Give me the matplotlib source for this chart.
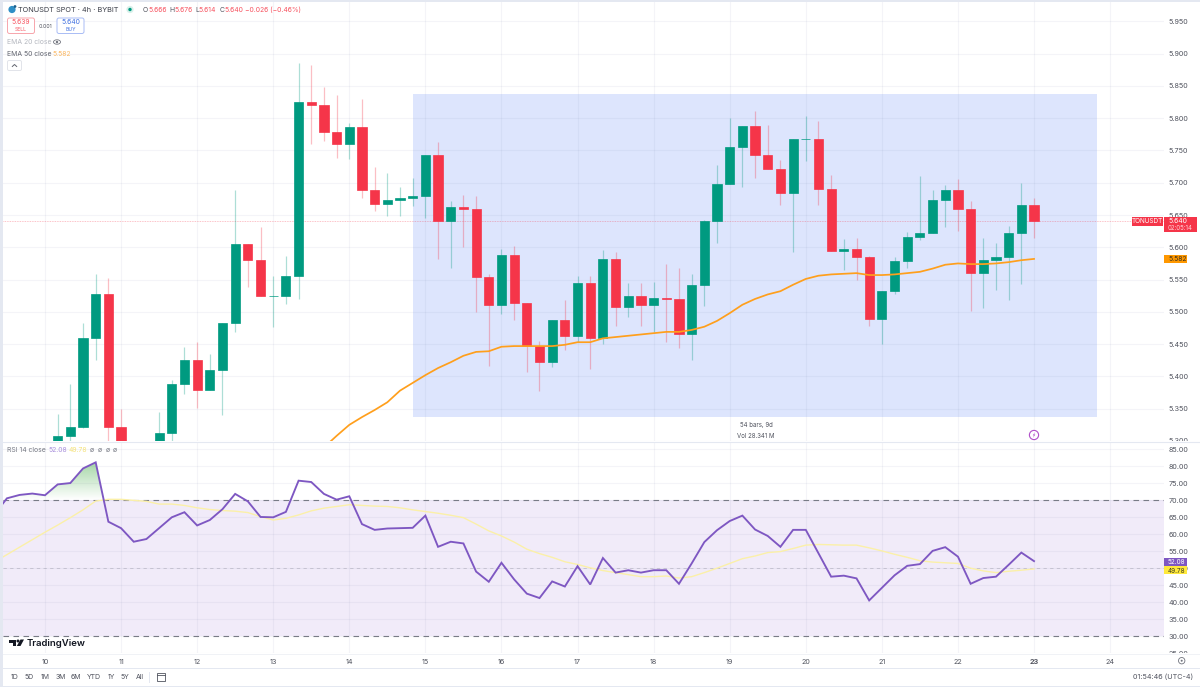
import numpy as np
import matplotlib
matplotlib.use('Agg')
import matplotlib.pyplot as plt
from matplotlib.collections import LineCollection
from matplotlib.patches import Rectangle, FancyBboxPatch, Circle, Polygon, Ellipse
from matplotlib.transforms import Bbox, TransformedBbox

plt.rcParams['font.family'] = ['Inter', 'DejaVu Sans']

# bars are counted from the 00:00 candle of day 10, 6 bars a day
first_bar = 1
opens = [5.295, 5.308, 5.321, 5.460, 5.528, 5.321,
         5.280, 5.260, 5.290, 5.312, 5.388, 5.426,
         5.379, 5.410, 5.482, 5.605, 5.580, 5.524,
         5.525, 5.556, 5.825, 5.820, 5.779, 5.760,
         5.786, 5.688, 5.667, 5.674, 5.676, 5.679,
         5.743, 5.641, 5.663, 5.659, 5.554, 5.511,
         5.588, 5.514, 5.447, 5.423, 5.487, 5.463,
         5.545, 5.460, 5.582, 5.508, 5.524, 5.510,
         5.521, 5.520, 5.466, 5.542, 5.641, 5.698,
         5.755, 5.788, 5.743, 5.721, 5.684, 5.767,
         5.767, 5.691, 5.594, 5.597, 5.585, 5.489,
         5.532, 5.579, 5.616, 5.622, 5.674, 5.689,
         5.660, 5.560, 5.580, 5.585, 5.622, 5.666]
closes = [5.308, 5.321, 5.460, 5.528, 5.321, 5.280,
          5.260, 5.280, 5.312, 5.388, 5.426, 5.379,
          5.410, 5.482, 5.605, 5.580, 5.524, 5.525,
          5.556, 5.825, 5.820, 5.779, 5.760, 5.786,
          5.688, 5.667, 5.674, 5.676, 5.679, 5.743,
          5.641, 5.663, 5.659, 5.554, 5.511, 5.588,
          5.514, 5.447, 5.423, 5.487, 5.463, 5.545,
          5.460, 5.582, 5.508, 5.524, 5.510, 5.521,
          5.520, 5.466, 5.542, 5.641, 5.698, 5.755,
          5.788, 5.743, 5.721, 5.684, 5.767, 5.768,
          5.691, 5.594, 5.597, 5.585, 5.489, 5.532,
          5.579, 5.616, 5.622, 5.674, 5.689, 5.660,
          5.560, 5.580, 5.585, 5.622, 5.666, 5.640]
highs = [5.342, 5.388, 5.482, 5.558, 5.552, 5.350,
         5.285, 5.285, 5.345, 5.395, 5.446, 5.453,
         5.435, 5.482, 5.688, 5.605, 5.632, 5.556,
         5.587, 5.885, 5.882, 5.848, 5.836, 5.792,
         5.830, 5.725, 5.715, 5.693, 5.708, 5.743,
         5.763, 5.672, 5.681, 5.679, 5.559, 5.598,
         5.602, 5.514, 5.455, 5.487, 5.518, 5.556,
         5.556, 5.596, 5.592, 5.545, 5.545, 5.546,
         5.574, 5.568, 5.558, 5.643, 5.728, 5.801,
         5.788, 5.811, 5.790, 5.735, 5.767, 5.804,
         5.796, 5.712, 5.613, 5.615, 5.587, 5.532,
         5.585, 5.623, 5.711, 5.688, 5.696, 5.706,
         5.672, 5.614, 5.607, 5.633, 5.699, 5.676]
lows = [5.280, 5.290, 5.320, 5.426, 5.290, 5.260,
        5.240, 5.250, 5.280, 5.297, 5.373, 5.351,
        5.379, 5.340, 5.469, 5.538, 5.524, 5.477,
        5.512, 5.520, 5.760, 5.765, 5.739, 5.737,
        5.677, 5.656, 5.648, 5.648, 5.664, 5.646,
        5.582, 5.568, 5.600, 5.500, 5.416, 5.497,
        5.487, 5.407, 5.378, 5.414, 5.441, 5.454,
        5.411, 5.451, 5.478, 5.492, 5.478, 5.469,
        5.454, 5.444, 5.426, 5.509, 5.607, 5.698,
        5.694, 5.708, 5.721, 5.665, 5.593, 5.734,
        5.665, 5.594, 5.565, 5.549, 5.478, 5.451,
        5.527, 5.568, 5.612, 5.622, 5.631, 5.626,
        5.502, 5.506, 5.534, 5.518, 5.543, 5.614]

ema_first_bar = 21
ema50 = [5.270, 5.290, 5.308, 5.325, 5.337, 5.348, 5.360, 5.378, 5.390,
         5.402, 5.413, 5.422, 5.432, 5.438, 5.439, 5.446, 5.447, 5.447, 5.447,
         5.447, 5.449, 5.453, 5.453, 5.459, 5.461, 5.463, 5.465, 5.467, 5.469,
         5.469, 5.472, 5.477, 5.486, 5.498, 5.511, 5.520, 5.527, 5.532, 5.542,
         5.551, 5.556, 5.558, 5.559, 5.560, 5.557, 5.557, 5.558, 5.560, 5.562,
         5.567, 5.573, 5.575, 5.574, 5.574, 5.575, 5.577, 5.580, 5.582]

rsi_first_bar = -4
rsi = [65.8, 70.6, 71.6, 72.0, 71.5, 74.7, 75.1, 79.4, 81.2, 63.7, 61.8, 57.8, 58.6,
       61.8, 65.0, 66.5, 62.6, 64.2, 67.4, 71.9, 69.7, 65.1, 65.0, 66.6, 75.8,
       75.4, 71.9, 70.2, 71.2, 63.0, 61.3, 61.7, 61.8, 61.9, 65.5, 56.3, 57.8,
       57.3, 49.0, 46.0, 51.6, 46.7, 42.5, 41.2, 46.1, 44.6, 50.6, 45.2, 53.0,
       48.7, 49.4, 48.7, 49.4, 49.4, 45.4, 51.4, 57.7, 61.2, 63.9, 65.5, 61.4,
       59.5, 56.3, 61.3, 61.3, 54.4, 47.5, 47.8, 47.0, 40.5, 44.2, 47.9, 50.7,
       51.2, 55.1, 56.2, 53.4, 45.4, 47.1, 47.5, 51.0, 54.6, 52.08]
rsi_ma = [51.8, 54.0, 56.2, 58.4, 60.6, 62.7, 64.9, 67.2, 69.8, 70.3, 70.3, 70.0, 69.7,
          68.9, 68.9, 68.5, 67.8, 67.3, 67.0, 66.8, 66.4, 65.2, 64.2, 64.7, 65.7,
          66.9, 67.7, 68.2, 68.7, 68.5, 68.3, 68.2, 67.8, 67.2, 66.7, 66.2, 65.6,
          64.9, 63.0, 61.0, 59.5, 57.7, 55.6, 54.3, 53.2, 51.9, 51.1, 50.1, 49.3,
          48.7, 48.1, 47.5, 47.5, 47.7, 47.1, 47.5, 48.7, 50.0, 51.4, 52.8, 53.6,
          54.6, 54.9, 55.8, 56.8, 57.0, 56.9, 56.8, 56.8, 56.0, 55.1, 54.1, 53.2,
          52.2, 51.8, 51.6, 51.4, 50.0, 49.2, 48.7, 49.1, 49.4, 49.78]

day_labels = ['10', '11', '12', '13', '14', '15', '16', '17', '18', '19', '20', '21', '22', '23', '24']
bars_per_day = 6
price_ticks = [5.30, 5.35, 5.40, 5.45, 5.50, 5.55, 5.60, 5.65, 5.70, 5.75, 5.80, 5.85, 5.90, 5.95]
rsi_ticks = [25, 30, 35, 40, 45, 50, 55, 60, 65, 70, 75, 80, 85]

last_price = 5.640
last_ema = 5.582
measure_bars = (29, 83)
measure_prices = (5.337, 5.837)

GREEN = '#009a80'
RED = '#f53549'
ORANGE = '#ff9f1c'
PURPLE = '#7e57c2'
YELLOW = '#fbf0a8'
GRID = '#737fa6'
GRAY = '#50535e'

W, H = 1200, 687
fig = plt.figure(figsize=(12, 6.87), dpi=100)


def axes_px(left, top, right, bottom):
    return fig.add_axes([left / W, 1 - bottom / H, (right - left) / W, (bottom - top) / H])


day_x = np.arange(len(day_labels)) * bars_per_day
bar_x = np.arange(len(opens)) + first_bar
xlim = (-3.31, 88.25)

# ---- price panel
ax = axes_px(3, 0, 1164, 441)
ax.set_xlim(xlim)
ax.set_ylim(5.300, 5.983)
ax.set_axisbelow(True)
ax.grid(True, color=GRID, alpha=0.08, lw=0.8)
ax.set_xticks(day_x)
ax.set_yticks(price_ticks)
ax.set_yticklabels(['%.3f' % p for p in price_ticks])
ax.tick_params(axis='x', length=0, labelbottom=False)
ax.yaxis.tick_right()
ax.tick_params(axis='y', length=0, labelsize=5.2, labelcolor=GRAY, pad=3.0)
for s in ax.spines.values():
    s.set_visible(False)

ax.add_patch(Rectangle((measure_bars[0], measure_prices[0]), measure_bars[1] - measure_bars[0],
                       measure_prices[1] - measure_prices[0], color='#dde5fd', lw=0, zorder=0.4))
ax.axhline(last_price, color=RED, lw=0.6, ls=(0, (1, 1)), alpha=0.4, zorder=1)

up = np.array(closes) >= np.array(opens)
colors = [GREEN if u else RED for u in up]
wick_segs = [[(x, l), (x, h)] for x, l, h in zip(bar_x, lows, highs)]
ax.add_collection(LineCollection(wick_segs, colors=colors, linewidths=0.9, alpha=0.32, zorder=2))
ax.bar(bar_x, np.array(closes) - np.array(opens), bottom=opens, width=0.72,
       color=colors, edgecolor=colors, lw=0.5, zorder=3)
ax.plot(np.arange(len(ema50)) + ema_first_bar, ema50, color=ORANGE, lw=1.25, zorder=4)

# ---- rsi panel
ax2 = axes_px(3, 442, 1164, 653)
ax2.set_xlim(xlim)
ax2.set_ylim(25.0, 87.2)
ax2.set_axisbelow(True)
ax2.grid(True, color=GRID, alpha=0.08, lw=0.8)
ax2.set_xticks(day_x)
ax2.set_xticklabels(day_labels)
ax2.get_xticklabels()[13].set_fontweight('bold')
ax2.set_yticks(rsi_ticks)
ax2.set_yticklabels(['%.2f' % r for r in rsi_ticks])
ax2.yaxis.tick_right()
ax2.tick_params(axis='y', length=0, labelsize=5.2, labelcolor=GRAY, pad=3.0)
ax2.tick_params(axis='x', length=0, labelsize=5.2, labelcolor=GRAY, pad=4)
for s in ax2.spines.values():
    s.set_visible(False)

rsi_x = np.arange(len(rsi)) + rsi_first_bar
ax2.axhspan(30, 70, color='#f1ebf9', lw=0, zorder=0.4)
ax2.axhline(70, color='#787b86', lw=0.8, ls=(0, (5, 4)), zorder=2)
ax2.axhline(30, color='#787b86', lw=0.8, ls=(0, (5, 4)), zorder=2)
ax2.axhline(50, color='#787b86', lw=0.6, ls=(0, (4, 4)), alpha=0.35, zorder=2)

# green gradient where rsi is over 70
grad = np.zeros((64, 2, 4))
grad[..., :3] = matplotlib.colors.to_rgb('#4caf50')
grad[..., 3] = np.linspace(0.55, 0.0, 64)[:, None]
img = ax2.imshow(grad, extent=(xlim[0], xlim[1], 70, 82), aspect='auto', origin='upper', zorder=1.5)
over = ax2.fill_between(rsi_x, 70, rsi, where=np.array(rsi) > 70, interpolate=True, color='none', lw=0)
verts = over.get_paths()[0]
img.set_clip_path(verts, transform=ax2.transData)
ax2.set_xlim(xlim)
ax2.set_ylim(25.0, 87.2)

ax2.plot(rsi_x, rsi_ma, color=YELLOW, lw=1.0, zorder=3)
ax2.plot(rsi_x, rsi, color=PURPLE, lw=1.35, zorder=4, solid_joinstyle='miter')

# axis labels at the panel edges are cut in the screenshot
for a in (ax, ax2):
    clip = TransformedBbox(Bbox([[0, 0], [1.05, 1]]), a.transAxes)
    for lab in a.get_yticklabels():
        lab.set_clip_box(clip)
        lab.set_clip_on(True)

# ---- overlay in screen pixels for the TradingView interface
ov = fig.add_axes([0, 0, 1, 1], zorder=10)
ov.set_xlim(0, W)
ov.set_ylim(H, 0)
ov.axis('off')
ov.patch.set_alpha(0)


def txt(x, y, s, size=5.2, color=GRAY, ha='left', weight='normal'):
    ov.text(x, y, s, fontsize=size, color=color, ha=ha, va='center', fontweight=weight)


def tag(x0, y0, x1, y1, color):
    ov.add_patch(Rectangle((x0, y0), x1 - x0, y1 - y0, color=color, lw=0))


BORDER = '#e4e8f1'
ov.add_patch(Rectangle((0, 0), W, 2, color=BORDER, lw=0))
ov.add_patch(Rectangle((0, 0), 2.5, H, color=BORDER, lw=0))
ov.add_patch(Rectangle((0, 685.5), W, 1.5, color=BORDER, lw=0))
ov.plot([3, W], [441.5, 441.5], color=BORDER, lw=0.8)
ov.plot([3, W], [653.5, 653.5], color='#f0f2f6', lw=0.7)
ov.plot([3, W], [667.5, 667.5], color=BORDER, lw=0.7)

# header
ov.add_patch(Circle((12, 9.5), 3.6, color='#2f8fc6', lw=0))
ov.add_patch(Circle((15, 6.5), 1.4, color='#1c5f8c', lw=0))
txt(18, 9.5, 'TONUSDT SPOT · 4h · BYBIT', size=5.3, color='#3a3d47')
ov.add_patch(Circle((130, 9.5), 3.6, color='#d9f0ea', lw=0))
ov.add_patch(Circle((130, 9.5), 1.7, color=GREEN, lw=0))
LRED = '#f7525f'
for x, s, c in [(143, 'O', GRAY), (148, '5.666', LRED), (169, 'H', GRAY), (174, '5.676', LRED),
                (195, 'L', GRAY), (198.5, '5.614', LRED), (220, 'C', GRAY), (224.5, '5.640', LRED),
                (245, '−0.026 (−0.46%)', LRED)]:
    txt(x, 9.5, s, size=4.9, color=c)

ov.add_patch(FancyBboxPatch((7.5, 18), 27, 15.5, boxstyle='round,pad=0,rounding_size=2', fc='white', ec='#f7a5ac', lw=0.7))
txt(21, 22.5, '5.639', size=4.9, color=LRED, ha='center')
txt(21, 29.5, 'SELL', size=3.6, color=LRED, ha='center')
txt(45.5, 26, '0.001', size=3.8, color=GRAY, ha='center')
ov.add_patch(FancyBboxPatch((57, 18), 27, 15.5, boxstyle='round,pad=0,rounding_size=2', fc='white', ec='#a9bcf5', lw=0.7))
txt(70.5, 22.5, '5.640', size=4.9, color='#3f6fe0', ha='center')
txt(70.5, 29.5, 'BUY', size=3.6, color='#3f6fe0', ha='center')
txt(7, 42, 'EMA 20 close', size=4.9, color='#b4b7bf')
ov.add_patch(Ellipse((57, 42), 7, 4.4, fc='none', ec='#70737d', lw=0.6))
ov.add_patch(Circle((57, 42), 1.2, fc='#70737d', lw=0))
txt(7, 54, 'EMA 50 close', size=4.9, color='#62656f')
txt(52, 54, '5.582', size=4.9, color='#fbb65e')
ov.add_patch(FancyBboxPatch((7.5, 60.5), 14, 10, boxstyle='round,pad=0,rounding_size=1.5', fc='white', ec='#e2e4ea', lw=0.7))
ov.plot([12.3, 14.5, 16.7], [66.5, 64.5, 66.5], color='#62656f', lw=0.7)

# measure box label
ov.add_patch(Rectangle((733, 419), 46, 22, color='white', lw=0, alpha=0.9))
txt(756, 425.5, '54 bars, 9d', size=4.4, ha='center')
txt(756, 435.5, 'Vol 28.341 M', size=4.4, ha='center')
ov.add_patch(Circle((1034, 435), 4.6, fc='white', ec='#b14fc9', lw=0.8))
ov.add_patch(Polygon([(1035, 432), (1032.8, 435.4), (1034, 435.4), (1033, 438), (1035.3, 434.5), (1034.1, 434.5)],
                     color='#b14fc9', lw=0))

# last price tags
tag(1132, 217, 1163, 225.5, RED)
txt(1147.5, 221.3, 'TONUSDT', size=4.6, color='white', ha='center')
tag(1164, 217, 1197, 232, RED)
txt(1168, 221.3, '5.640', size=4.9, color='white')
txt(1168, 228, '02:05:14', size=4.4, color='#ffd3d7')
tag(1164, 255, 1187, 263, '#ff9800')
txt(1168, 259, '5.582', size=4.9, color='#3a3020')

# rsi legend and tags
txt(7, 450, 'RSI 14 close', size=4.9, color='#767983')
txt(48, 450, '52.08', size=4.9, color='#a88fdc')
txt(69, 450, '49.78', size=4.9, color='#f5e27a')
for x in [90, 98, 106, 113]:
    txt(x, 450, 'ø', size=4.9, color='#767983')
tag(1164, 557.5, 1187, 566, PURPLE)
txt(1168, 561.6, '52.08', size=4.6, color='white')
tag(1164, 566, 1187, 574, '#ffe93b')
txt(1168, 570.6, '49.78', size=4.6, color='#3a3a20')

# TradingView logo
ov.add_patch(Polygon([(9, 639.5), (16, 639.5), (16, 646), (12.5, 646), (12.5, 642.5), (9, 642.5)], color='#131722', lw=0))
ov.add_patch(Circle((18, 641), 1.5, color='#131722', lw=0))
ov.add_patch(Polygon([(20.5, 639.5), (24, 639.5), (20.5, 646), (16.8, 646)], color='#131722', lw=0))
txt(27, 643, 'TradingView', size=6.9, color='#131722', weight='semibold')

# bottom bar
for x, s in [(14.5, '1D'), (29, '5D'), (45, '1M'), (60.5, '3M'), (76, '6M'), (94, 'YTD'),
             (111, '1Y'), (125, '5Y'), (139.5, 'All')]:
    txt(x, 677, s, size=5.0, ha='center')
ov.plot([149, 149], [672, 682], color=BORDER, lw=0.7)
ov.add_patch(Rectangle((156.5, 673), 8, 8, fc='none', ec='#50535e', lw=0.6))
ov.plot([156.5, 164.5], [675, 675], color='#50535e', lw=0.6)
txt(1193, 677, '01:54:46 (UTC-4)', size=5.2, ha='right')
ov.add_patch(Circle((1181.7, 660.7), 3.2, fc='white', ec='#70737d', lw=0.6))
ov.add_patch(Circle((1181.7, 660.7), 1, fc='#70737d', lw=0))

fig.savefig('out.png', dpi=100)
